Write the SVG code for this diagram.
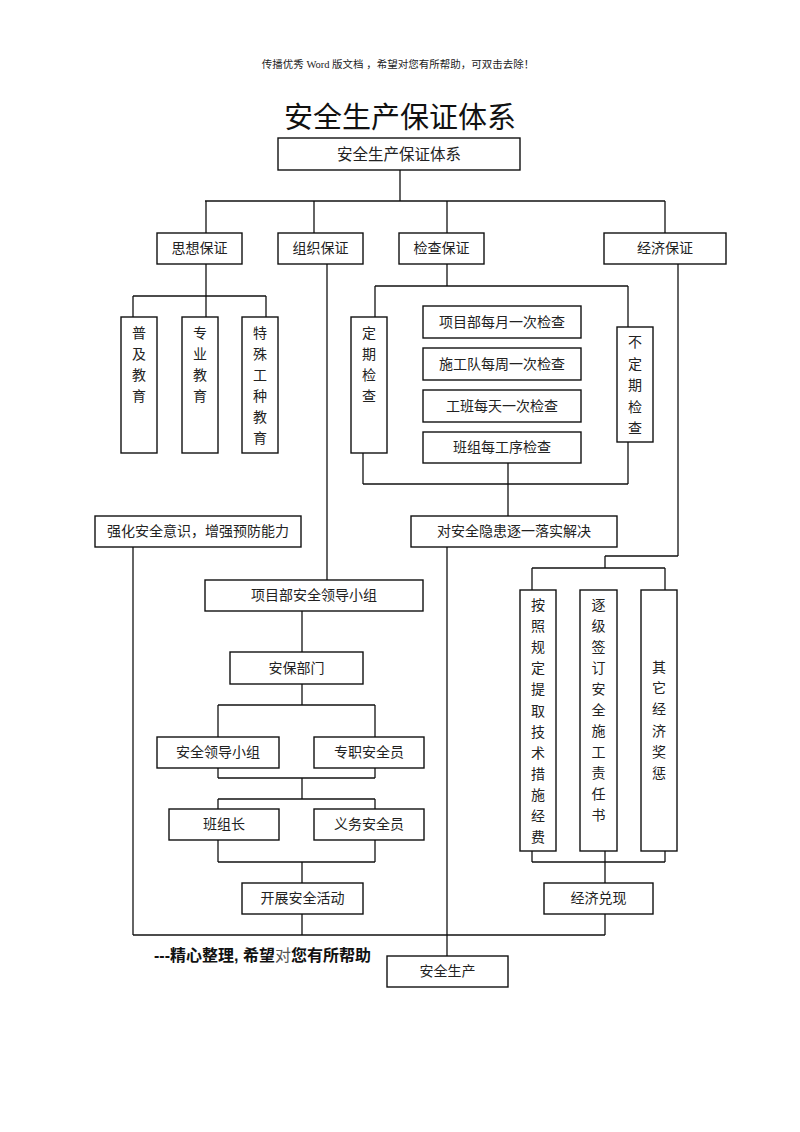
<svg xmlns="http://www.w3.org/2000/svg" width="800" height="1132" viewBox="0 0 800 1132">
<style>
.b{fill:#fff;stroke:#111;stroke-width:1.4}
.t{font-family:"Liberation Serif","Noto Sans CJK SC",serif;font-size:14px;fill:#222;text-anchor:middle;dominant-baseline:central}
.c line{stroke:#111;stroke-width:1.3}
</style>
<rect width="800" height="1132" fill="#fff"/>
<text x="398" y="64" class="t" style="font-size:10.5px">传播优秀 Word 版文档 ，希望对您有所帮助，可双击去除！</text>
<text x="400" y="118" class="t" style="font-size:29px;fill:#111">安全生产保证体系</text>
<g class="c" id="connectors">
<line x1="400" y1="170" x2="400" y2="201"/>
<line x1="205" y1="201" x2="665" y2="201"/>
<line x1="206" y1="201" x2="206" y2="233"/>
<line x1="314" y1="201" x2="314" y2="233"/>
<line x1="447" y1="201" x2="447" y2="233"/>
<line x1="665" y1="201" x2="665" y2="233"/>
<line x1="206" y1="264" x2="206" y2="317"/>
<line x1="133" y1="296" x2="266" y2="296"/>
<line x1="133" y1="296" x2="133" y2="317"/>
<line x1="266" y1="296" x2="266" y2="317"/>
<line x1="327" y1="264" x2="327" y2="580"/>
<line x1="447" y1="264" x2="447" y2="286"/>
<line x1="375" y1="286" x2="628" y2="286"/>
<line x1="375" y1="286" x2="375" y2="317"/>
<line x1="628" y1="286" x2="628" y2="327"/>
<line x1="363" y1="453" x2="363" y2="484"/>
<line x1="628" y1="442" x2="628" y2="484"/>
<line x1="363" y1="484" x2="628" y2="484"/>
<line x1="508" y1="463" x2="508" y2="516"/>
<line x1="678" y1="264" x2="678" y2="556"/>
<line x1="605" y1="556" x2="678" y2="556"/>
<line x1="605" y1="556" x2="605" y2="568"/>
<line x1="532" y1="568" x2="665" y2="568"/>
<line x1="532" y1="568" x2="532" y2="590"/>
<line x1="665" y1="568" x2="665" y2="590"/>
<line x1="133" y1="547" x2="133" y2="935"/>
<line x1="447" y1="547" x2="447" y2="956"/>
<line x1="302" y1="611" x2="302" y2="652"/>
<line x1="302" y1="684" x2="302" y2="705"/>
<line x1="218" y1="705" x2="375" y2="705"/>
<line x1="218" y1="705" x2="218" y2="737"/>
<line x1="375" y1="705" x2="375" y2="737"/>
<line x1="218" y1="768" x2="218" y2="778"/>
<line x1="375" y1="768" x2="375" y2="778"/>
<line x1="218" y1="778" x2="375" y2="778"/>
<line x1="302" y1="778" x2="302" y2="799"/>
<line x1="218" y1="799" x2="375" y2="799"/>
<line x1="218" y1="799" x2="218" y2="809"/>
<line x1="375" y1="799" x2="375" y2="809"/>
<line x1="218" y1="840" x2="218" y2="862"/>
<line x1="375" y1="840" x2="375" y2="862"/>
<line x1="218" y1="862" x2="375" y2="862"/>
<line x1="302" y1="862" x2="302" y2="883"/>
<line x1="302" y1="914" x2="302" y2="935"/>
<line x1="133" y1="935" x2="605" y2="935"/>
<line x1="532" y1="851" x2="532" y2="862"/>
<line x1="665" y1="851" x2="665" y2="862"/>
<line x1="532" y1="862" x2="665" y2="862"/>
<line x1="605" y1="851" x2="605" y2="883"/>
<line x1="605" y1="914" x2="605" y2="935"/>
</g>
<g id="n-root"><rect class="b" x="278" y="138" width="242" height="32"/><text class="t" x="399" y="154" style="font-size:15.5px">安全生产保证体系</text></g>
<g id="n-sixiang"><rect class="b" x="157" y="233" width="85" height="31"/><text class="t" x="199.5" y="248.5">思想保证</text></g>
<g id="n-zuzhi"><rect class="b" x="278" y="233" width="85" height="31"/><text class="t" x="320.5" y="248.5">组织保证</text></g>
<g id="n-jiancha"><rect class="b" x="399" y="233" width="85" height="31"/><text class="t" x="441.5" y="248.5">检查保证</text></g>
<g id="n-jingji"><rect class="b" x="604" y="233" width="122" height="31"/><text class="t" x="665" y="248.5">经济保证</text></g>
<g id="n-puji"><rect class="b" x="121" y="317" width="36" height="136"/><text class="t" x="139" y="333">普<tspan x="139" dy="21">及</tspan><tspan x="139" dy="21">教</tspan><tspan x="139" dy="21">育</tspan></text></g>
<g id="n-zhuanye"><rect class="b" x="182" y="317" width="36" height="136"/><text class="t" x="200" y="333">专<tspan x="200" dy="21">业</tspan><tspan x="200" dy="21">教</tspan><tspan x="200" dy="21">育</tspan></text></g>
<g id="n-teshu"><rect class="b" x="242" y="317" width="36" height="136"/><text class="t" x="260" y="333">特<tspan x="260" dy="21">殊</tspan><tspan x="260" dy="21">工</tspan><tspan x="260" dy="21">种</tspan><tspan x="260" dy="21">教</tspan><tspan x="260" dy="21">育</tspan></text></g>
<g id="n-dingqi"><rect class="b" x="351" y="317" width="36" height="136"/><text class="t" x="369" y="333">定<tspan x="369" dy="21">期</tspan><tspan x="369" dy="21">检</tspan><tspan x="369" dy="21">查</tspan></text></g>
<g id="n-budingqi"><rect class="b" x="617" y="327" width="36" height="115"/><text class="t" x="635" y="342">不<tspan x="635" dy="21.5">定</tspan><tspan x="635" dy="21.5">期</tspan><tspan x="635" dy="21.5">检</tspan><tspan x="635" dy="21.5">查</tspan></text></g>
<g id="n-c1"><rect class="b" x="423" y="306" width="158" height="32"/><text class="t" x="502" y="322">项目部每月一次检查</text></g>
<g id="n-c2"><rect class="b" x="423" y="348" width="158" height="32"/><text class="t" x="502" y="364">施工队每周一次检查</text></g>
<g id="n-c3"><rect class="b" x="423" y="390" width="158" height="32"/><text class="t" x="502" y="406">工班每天一次检查</text></g>
<g id="n-c4"><rect class="b" x="423" y="432" width="158" height="31"/><text class="t" x="502" y="447.5">班组每工序检查</text></g>
<g id="n-qianghua"><rect class="b" x="95" y="516" width="206" height="31"/><text class="t" x="198" y="531.5">强化安全意识，增强预防能力</text></g>
<g id="n-yinhuan"><rect class="b" x="411" y="516" width="206" height="31"/><text class="t" x="514" y="531.5">对安全隐患逐一落实解决</text></g>
<g id="n-xmb"><rect class="b" x="205" y="580" width="218" height="31"/><text class="t" x="314" y="595.5">项目部安全领导小组</text></g>
<g id="n-anbao"><rect class="b" x="230" y="652" width="133" height="32"/><text class="t" x="296.5" y="668">安保部门</text></g>
<g id="n-aqldxz"><rect class="b" x="157" y="737" width="122" height="31"/><text class="t" x="218" y="752.5">安全领导小组</text></g>
<g id="n-zzaqy"><rect class="b" x="314" y="737" width="110" height="31"/><text class="t" x="369" y="752.5">专职安全员</text></g>
<g id="n-bzz"><rect class="b" x="169" y="809" width="110" height="31"/><text class="t" x="224" y="824.5">班组长</text></g>
<g id="n-ywaqy"><rect class="b" x="314" y="809" width="110" height="31"/><text class="t" x="369" y="824.5">义务安全员</text></g>
<g id="n-kzaqhd"><rect class="b" x="242" y="883" width="121" height="31"/><text class="t" x="302.5" y="898.5">开展安全活动</text></g>
<g id="n-anzhao"><rect class="b" x="520" y="590" width="36" height="261"/><text class="t" x="538" y="605">按<tspan x="538" dy="21.1">照</tspan><tspan x="538" dy="21.1">规</tspan><tspan x="538" dy="21.1">定</tspan><tspan x="538" dy="21.1">提</tspan><tspan x="538" dy="21.1">取</tspan><tspan x="538" dy="21.1">技</tspan><tspan x="538" dy="21.1">术</tspan><tspan x="538" dy="21.1">措</tspan><tspan x="538" dy="21.1">施</tspan><tspan x="538" dy="21.1">经</tspan><tspan x="538" dy="21.1">费</tspan></text></g>
<g id="n-zhuji"><rect class="b" x="580" y="590" width="37" height="261"/><text class="t" x="598.5" y="605">逐<tspan x="598.5" dy="21">级</tspan><tspan x="598.5" dy="21">签</tspan><tspan x="598.5" dy="21">订</tspan><tspan x="598.5" dy="21">安</tspan><tspan x="598.5" dy="21">全</tspan><tspan x="598.5" dy="21">施</tspan><tspan x="598.5" dy="21">工</tspan><tspan x="598.5" dy="21">责</tspan><tspan x="598.5" dy="21">任</tspan><tspan x="598.5" dy="21">书</tspan></text></g>
<g id="n-qita"><rect class="b" x="641" y="590" width="36" height="261"/><text class="t" x="659" y="667">其<tspan x="659" dy="21.2">它</tspan><tspan x="659" dy="21.2">经</tspan><tspan x="659" dy="21.2">济</tspan><tspan x="659" dy="21.2">奖</tspan><tspan x="659" dy="21.2">惩</tspan></text></g>
<g id="n-duixian"><rect class="b" x="544" y="883" width="109" height="31"/><text class="t" x="598.5" y="898.5">经济兑现</text></g>
<g id="n-anquan"><rect class="b" x="387" y="956" width="121" height="31"/><text class="t" x="447.5" y="971.5">安全生产</text></g>
<text x="154" y="955" style="font-family:'Liberation Sans','Noto Sans CJK SC',sans-serif;font-size:16px;font-weight:bold;fill:#111;dominant-baseline:central">---精心整理, 希望<tspan style="font-weight:normal;fill:#555">对</tspan>您有所帮助</text>
</svg>
